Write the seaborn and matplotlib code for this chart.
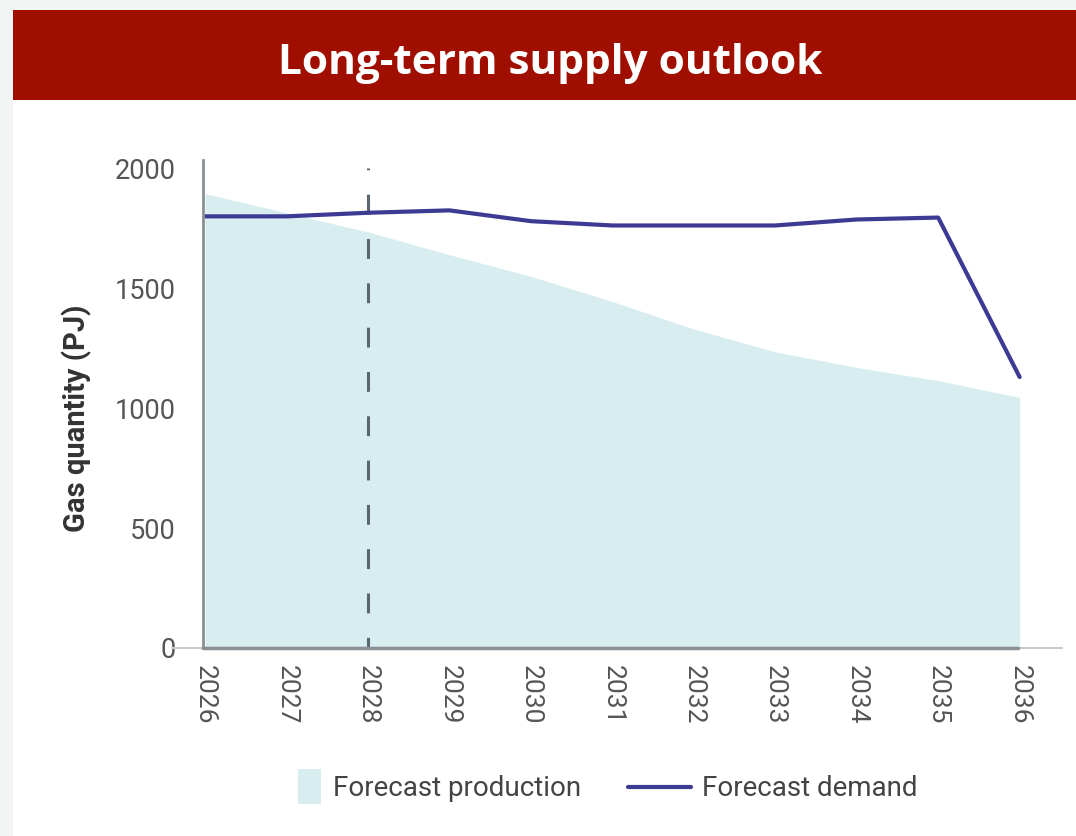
import numpy as np
import pandas as pd
import matplotlib
matplotlib.use("Agg")
import matplotlib.pyplot as plt
import seaborn as sns
from matplotlib.patches import Rectangle, Patch
from matplotlib.lines import Line2D
from matplotlib.legend_handler import HandlerPatch

# -------------------------------
# Data
# -------------------------------
years = [2026, 2027, 2028, 2029, 2030, 2031, 2032, 2033, 2034, 2035, 2036]
production = [1895, 1815, 1735, 1640, 1550, 1445, 1330, 1235, 1170, 1115, 1045]
demand = [1800, 1800, 1815, 1825, 1780, 1762, 1762, 1762, 1787, 1795, 1130]
forecast_start = 2028

title = "Long-term supply outlook"
ylabel = "Gas quantity (PJ)"
yticks = [0, 500, 1000, 1500, 2000]

df = pd.DataFrame({"Year": years, "Production": production, "Demand": demand})

# -------------------------------
# Styling
# -------------------------------
sns.set_theme(style="white")
plt.rcParams["font.family"] = ["Roboto", "DejaVu Sans"]

fill_col = "#d7edef"
line_col = "#3d3a94"
tick_col = "#555555"

fig = plt.figure(figsize=(10.76, 8.36), dpi=100)
fig.patch.set_facecolor("white")

# grey margin strips + red header banner
fig.patches.append(Rectangle((0, 0), 13 / 1076, 1, transform=fig.transFigure,
                             facecolor="#f3f4f4", edgecolor="none", zorder=-5))
fig.patches.append(Rectangle((0, 1 - 10 / 836), 1, 10 / 836, transform=fig.transFigure,
                             facecolor="#f3f4f4", edgecolor="none", zorder=-5))
fig.patches.append(Rectangle((13 / 1076, 1 - 100 / 836), 1 - 13 / 1076, 90 / 836,
                             transform=fig.transFigure, facecolor="#a00e00",
                             edgecolor="none", zorder=-5))
fig.text(0.511, 0.924, title, color="white", fontsize=30.5, fontweight="bold",
         family=["Open Sans", "DejaVu Sans"], ha="center", va="center")

ax = fig.add_axes([0.1882, 0.2249, 0.7988, 0.5837])
ax.set_facecolor("none")

# production area
ax.fill_between(df["Year"], 0, df["Production"], color=fill_col, linewidth=0, zorder=1)

# demand line
sns.lineplot(data=df, x="Year", y="Demand", ax=ax, color=line_col, linewidth=3,
             zorder=3)

# forecast start marker
ax.axvline(forecast_start, ymin=0, ymax=0.984, color="#5b6670", linewidth=2.2,
           linestyle=(3, (6.5, 8)), zorder=2)

ax.set_xlim(2025.97, 2036.52)
ax.set_ylim(0, 2035)

ax.set_xticks(years)
ax.set_xticklabels([str(y) for y in years], rotation=270, fontsize=19,
                   color=tick_col)
ax.set_yticks(yticks)
ax.set_yticklabels([str(v) for v in yticks], fontsize=19.5, color=tick_col)
ax.tick_params(axis="x", length=0, pad=12)
ax.tick_params(axis="y", length=0, pad=19)

ax.set_xlabel("")
ax.set_ylabel(ylabel, fontsize=21, fontweight="bold", color="#333333")
ax.yaxis.set_label_coords(-0.1286, 0.47)

for side in ["top", "right"]:
    ax.spines[side].set_visible(False)
ax.spines["left"].set_color("#8a8f94")
ax.spines["left"].set_linewidth(2)
ax.spines["left"].set_zorder(4)
ax.spines["bottom"].set_visible(False)

# baseline extends a little left of the y axis
ax.plot([-0.035, 1.0], [0, 0], transform=ax.get_yaxis_transform(),
        color="#c8cbcd", linewidth=1.5, clip_on=False, zorder=4)
ax.plot([0, 0.949], [0, 0], transform=ax.get_yaxis_transform(),
        color="#8a8f94", linewidth=2.5, clip_on=False, zorder=4)


def narrow_box(legend, orig_handle, xdescent, ydescent, width, height, fontsize):
    w, h = 17, 25
    return Rectangle((-xdescent + width - w, -ydescent + height / 2 - h / 2), w, h)


handles = [Patch(facecolor=fill_col, edgecolor="none", label="Forecast production"),
           Line2D([0], [0], color=line_col, linewidth=3, label="Forecast demand")]
fig.legend(handles=handles, loc="center", bbox_to_anchor=(0.5464, 1 - 789 / 836),
           ncol=2, frameon=False, fontsize=20, handlelength=2.27,
           columnspacing=1.7, handletextpad=0.4, labelcolor="#444444",
           handler_map={Patch: HandlerPatch(patch_func=narrow_box)})

fig.savefig("out.png", dpi=100, facecolor=fig.get_facecolor())
